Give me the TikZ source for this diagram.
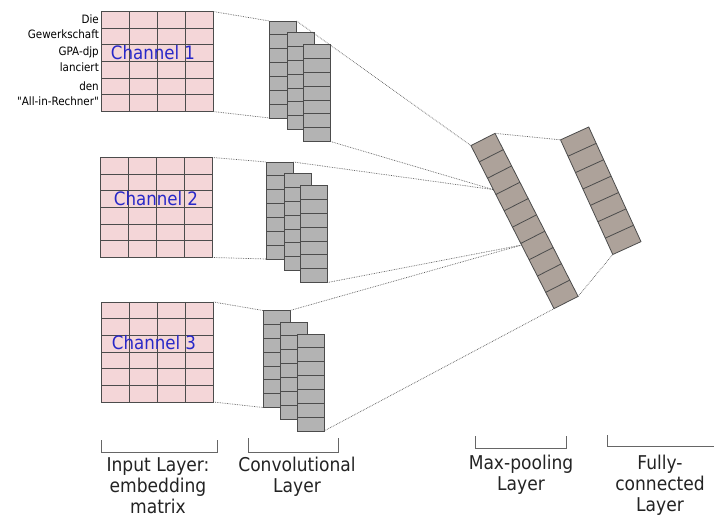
\documentclass[tikz,border=0pt]{standalone}
\usepackage{fontspec}
\setmainfont{DejaVu Sans Condensed}
\newfontfamily\wordfont{DejaVu Sans Condensed}
\usepackage{tikz}
\usetikzlibrary{calc}
\usepackage{xcolor}

\definecolor{embedpink}{RGB}{244,214,216}
\definecolor{convgray}{RGB}{179,179,179}
\definecolor{poolgray}{RGB}{173,162,154}
\definecolor{chanblue}{RGB}{40,40,200}
\definecolor{labelgray}{RGB}{35,35,35}

\tikzset{
	cellbox/.style={draw=black!70, line width=0.8pt, inner sep=0pt, outer sep=0pt},
	embedbox/.style={cellbox, fill=embedpink, minimum width=112, minimum height=100},
	convbox/.style={cellbox, fill=convgray, minimum width=27, minimum height=97},
	poolbox/.style={cellbox, fill=poolgray},
	link/.style={black!65, densely dotted, line width=0.7pt},
	brace/.style={black!60, line width=0.8pt},
	word/.style={anchor=east, inner sep=0pt, font=\wordfont\fontsize{11.5}{13}\selectfont},
	chan/.style={chanblue, inner sep=0pt, font=\fontsize{18.5}{20}\selectfont},
	layer/.style={labelgray, align=center, anchor=north, inner sep=0pt, font=\fontsize{19}{21}\selectfont}
}

\newcommand{\cellgrid}[3]{%
	\pgfmathtruncatemacro{\ncols}{#2-1}%
	\pgfmathtruncatemacro{\nrows}{#3-1}%
	\ifnum\ncols>0
		\foreach \i in {1,...,\ncols}
			\draw[black!70, line width=0.8pt] ($(#1.north west)!\i/#2!(#1.north east)$) -- ($(#1.south west)!\i/#2!(#1.south east)$);
	\fi
	\foreach \j in {1,...,\nrows}
		\draw[black!70, line width=0.8pt] ($(#1.north west)!\j/#3!(#1.south west)$) -- ($(#1.north east)!\j/#3!(#1.south east)$);
}

\begin{document}
\begin{tikzpicture}[x=1pt, y=-1pt]
	\useasboundingbox (0,0) rectangle (714,518);

	\foreach \k/\mx/\my/\cx/\cy in {1/157/61.5/283/69.5, 2/156.5/207.5/280/210.5, 3/157.5/352/276.5/359} {
		\node[embedbox] (m\k) at (\mx,\my) {};
		\cellgrid{m\k}{4}{6}
		\node[convbox] (a\k) at (\cx,\cy) {};
		\cellgrid{a\k}{1}{7}
		\node[convbox] (b\k) at (\cx+17.5,\cy+11.5) {};
		\cellgrid{b\k}{1}{7}
		\node[convbox] (c\k) at (\cx+34,\cy+23.5) {};
		\cellgrid{c\k}{1}{7}
		\draw[link] (m\k.north east) -- (a\k.north west);
		\draw[link] (m\k.south east) -- (a\k.south west);
	}

	\node[poolbox, minimum width=27, minimum height=183, rotate=27] (mp) at (524.5,221) {};
	\cellgrid{mp}{1}{10}
	\node[poolbox, minimum width=31, minimum height=126, rotate=24.5] (fc) at (600.75,190.75) {};
	\cellgrid{fc}{1}{7}

	\coordinate (mpa) at ($(mp.north west)!0.27!(mp.south west)$);
	\coordinate (mpb) at ($(mp.north west)!0.61!(mp.south west)$);

	\draw[link] (a1.north east) -- (mp.north west);
	\draw[link] (c1.south east) -- (mpa);
	\draw[link] (a2.north east) -- (mpa);
	\draw[link] (c2.south east) -- (mpb);
	\draw[link] (a3.north east) -- (mpb);
	\draw[link] (c3.south east) -- (mp.south west);
	\draw[link] (mp.north east) -- (fc.north west);
	\draw[link] (mp.south east) -- (fc.south west);

	\node[chan] (ch1) at (153,53) {Channel 1};
	\node[chan] (ch2) at (156,199) {Channel 2};
	\node[chan] (ch3) at (154,343) {Channel 3};

	\node[word] (w1) at (99,19) {Die};
	\node[word] (w2) at (99,34) {Gewerkschaft};
	\node[word] (w3) at (99,52) {GPA-djp};
	\node[word] (w4) at (99,67) {lanciert};
	\node[word] (w5) at (99,86) {den};
	\node[word] (w6) at (99,101) {"All-in-Rechner"};

	\draw[brace] (101,440) -- (101,452) -- (217,452) -- (217,440);
	\draw[brace] (248,438) -- (248,452) -- (338,452) -- (338,438);
	\draw[brace] (475,436) -- (475,448) -- (566,448) -- (566,436);
	\draw[brace] (607,435) -- (607,446) -- (714,446);

	\node[layer] (inl) at (158,457) {Input Layer:\\embedding\\matrix};
	\node[layer] (cvl) at (297,457) {Convolutional\\Layer};
	\node[layer] (mpl) at (521,455) {Max-pooling\\Layer};
	\node[layer] (fcl) at (660,455) {Fully-\\connected\\Layer};
\end{tikzpicture}
\end{document}
